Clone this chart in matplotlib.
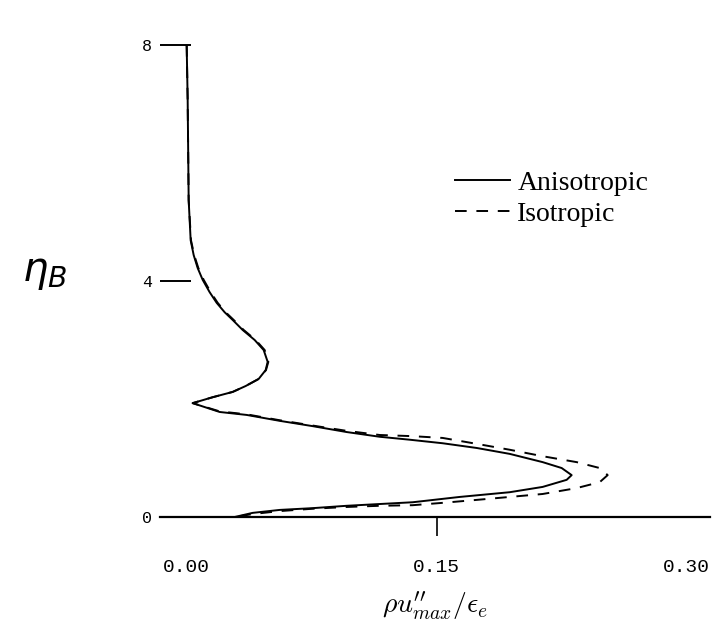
import numpy as np
import matplotlib.pyplot as plt
from matplotlib.ticker import FixedLocator

# Anisotropic profile (value, eta_B)
aniso_x = [0.0, 0.0006, 0.0012, 0.0024, 0.0042, 0.0066, 0.0096, 0.0138, 0.018, 0.0228,
           0.0276, 0.0336, 0.0408, 0.0462, 0.0486, 0.0474, 0.0432, 0.0354, 0.0276, 0.0156,
           0.0036, 0.0198, 0.036, 0.0558, 0.0756, 0.096, 0.1158, 0.1338, 0.1536, 0.174,
           0.1938, 0.2136, 0.225, 0.231, 0.228, 0.2136, 0.1938, 0.1638, 0.1356, 0.1158,
           0.096, 0.0756, 0.0558, 0.0396, 0.0288]
aniso_eta = [8.0, 7.07, 5.37, 4.69, 4.44, 4.22, 4.02, 3.81, 3.63, 3.47,
             3.34, 3.17, 3.0, 2.83, 2.63, 2.49, 2.34, 2.22, 2.12, 2.03,
             1.93, 1.78, 1.73, 1.63, 1.54, 1.44, 1.36, 1.31, 1.25, 1.17,
             1.07, 0.93, 0.83, 0.71, 0.63, 0.51, 0.42, 0.34, 0.25, 0.22,
             0.19, 0.15, 0.12, 0.07, 0.0]

# Isotropic profile
iso_x = [0.0, 0.0006, 0.0012, 0.0026, 0.0045, 0.007, 0.0102, 0.0144, 0.0186, 0.0234,
         0.0282, 0.0342, 0.0414, 0.0468, 0.049, 0.0476, 0.0432, 0.0354, 0.0276, 0.0156,
         0.0036, 0.0198, 0.036, 0.0558, 0.0756, 0.096, 0.1158, 0.1356, 0.1536, 0.174,
         0.1938, 0.2136, 0.234, 0.2478, 0.2526, 0.2478, 0.234, 0.2136, 0.1938, 0.174,
         0.1536, 0.1356, 0.1158, 0.096, 0.0756, 0.0558, 0.0396, 0.0288]
iso_eta = [8.0, 7.07, 5.37, 4.69, 4.44, 4.22, 4.02, 3.81, 3.63, 3.47,
           3.34, 3.17, 3.0, 2.83, 2.63, 2.49, 2.34, 2.22, 2.12, 2.03,
           1.93, 1.79, 1.74, 1.64, 1.55, 1.46, 1.39, 1.37, 1.34, 1.24,
           1.14, 1.03, 0.93, 0.83, 0.71, 0.59, 0.49, 0.39, 0.34, 0.29,
           0.24, 0.20, 0.19, 0.17, 0.14, 0.10, 0.05, 0.0]

xticks = [0.0, 0.15, 0.30]
xtick_labels = ['0.00', '0.15', '0.30']
yticks = [0, 4, 8]
ytick_labels = ['0', '4', '8']

fig = plt.figure(figsize=(7.16, 6.29), dpi=100)
ax = fig.add_axes([160 / 716, 112 / 629, 550 / 716, 472 / 629])

ax.plot(aniso_x, aniso_eta, color='black', lw=1.4, label='Anisotropic')
ax.plot(iso_x, iso_eta, color='black', lw=1.4, dashes=(6, 5), label='Isotropic')

ax.set_xlim(-0.016, 0.314)
ax.set_ylim(0, 8)

for side in ['top', 'right', 'left']:
    ax.spines[side].set_visible(False)
ax.spines['bottom'].set_linewidth(1.6)

ax.set_xticks(xticks)
ax.set_xticklabels(xtick_labels, fontfamily='Liberation Mono', fontsize=14)
ax.tick_params(axis='x', length=0, pad=30)
# only the middle tick mark shows on the scan
ax.xaxis.remove_overlapping_locs = False
ax.xaxis.set_minor_locator(FixedLocator([0.15]))
ax.tick_params(axis='x', which='minor', length=14, width=1.2, direction='out')

ax.set_yticks(yticks)
ax.set_yticklabels(ytick_labels, fontfamily='Liberation Mono', fontsize=12)
ax.tick_params(axis='y', length=22, width=1.4, direction='in', pad=6)

ax.set_xlabel(r'$\rho u^{\prime\prime}_{max}/\epsilon_e$', fontsize=20,
              math_fontfamily='cm', labelpad=10)
fig.text(45 / 716, 1 - 272 / 629, r'$\eta_B$', fontsize=29, ha='center', va='center')

leg = ax.legend(loc='upper left', bbox_to_anchor=(0.536, 0.734), frameon=False,
                prop={'family': 'Liberation Serif', 'size': 20},
                handlelength=2.0, handletextpad=0.25, labelspacing=0.2,
                borderpad=0, borderaxespad=0)

fig.savefig('out.png', dpi=100)
